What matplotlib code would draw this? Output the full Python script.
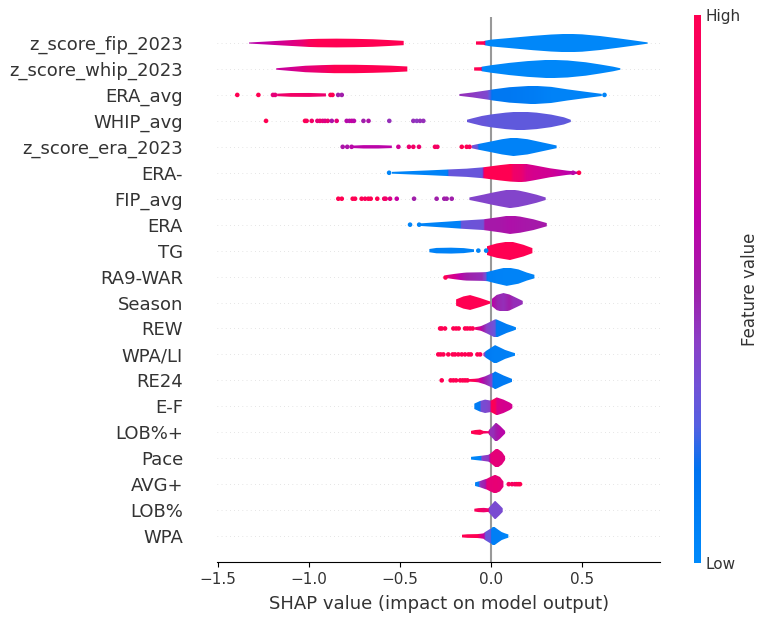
import numpy as np
import matplotlib
matplotlib.use("Agg")
import matplotlib.pyplot as plt
from matplotlib.colors import LinearSegmentedColormap
from matplotlib.patches import Polygon

# feature names, top to bottom
features = ["z_score_fip_2023", "z_score_whip_2023", "ERA_avg", "WHIP_avg",
            "z_score_era_2023", "ERA-", "FIP_avg", "ERA", "TG", "RA9-WAR",
            "Season", "REW", "WPA/LI", "RE24", "E-F", "LOB%+", "Pace", "AVG+",
            "LOB%", "WPA"]

# violin outlines: (shap value, relative half width, feature value 0..1)
fip_parts = [
    [(-1.33, 0.06, 0.6), (-1.24, 0.16, 0.64), (-1.14, 0.28, 0.72), (-1.05, 0.38, 0.8),
     (-1.0, 0.44, 0.95), (-0.95, 0.47, 1.0), (-0.85, 0.49, 1.0), (-0.75, 0.47, 1.0),
     (-0.65, 0.42, 1.0), (-0.56, 0.33, 1.0), (-0.48, 0.24, 1.0)],
    [(-0.085, 0.18, 1.0), (-0.04, 0.2, 1.0), (-0.033, 0.26, 0.02), (0.0, 0.38, 0.02),
     (0.1, 0.56, 0.02), (0.23, 0.8, 0.02), (0.33, 0.95, 0.02), (0.42, 1.03, 0.02),
     (0.5, 0.97, 0.02), (0.6, 0.78, 0.02), (0.7, 0.52, 0.02), (0.78, 0.3, 0.02),
     (0.86, 0.07, 0.02)],
]
fip_dots = []

whip_parts = [
    [(-1.18, 0.08, 0.66), (-1.1, 0.22, 0.7), (-1.02, 0.36, 0.78), (-0.93, 0.43, 0.88),
     (-0.86, 0.47, 1.0), (-0.75, 0.47, 1.0), (-0.65, 0.43, 1.0), (-0.55, 0.37, 1.0),
     (-0.46, 0.28, 1.0)],
    [(-0.093, 0.18, 1.0), (-0.055, 0.2, 1.0), (-0.05, 0.26, 0.02), (0.0, 0.42, 0.02),
     (0.1, 0.68, 0.02), (0.2, 0.88, 0.02), (0.32, 1.03, 0.02), (0.42, 0.95, 0.02),
     (0.52, 0.75, 0.02), (0.6, 0.5, 0.02), (0.67, 0.26, 0.02), (0.71, 0.08, 0.02)],
]
whip_dots = []

eraavg_parts = [
    [(-1.175, 0.14, 0.85), (-1.1, 0.21, 0.9), (-1.0, 0.22, 0.88), (-0.907, 0.17, 0.85)],
    [(-0.174, 0.1, 0.45), (-0.1, 0.28, 0.42), (-0.02, 0.52, 0.36), (0.01, 0.62, 0.13),
     (0.1, 0.86, 0.13), (0.23, 1.03, 0.1), (0.33, 0.9, 0.06), (0.42, 0.62, 0.05),
     (0.52, 0.35, 0.05), (0.608, 0.12, 0.05)],
]
eraavg_dots = [(-1.394, 1.0), (-1.278, 1.0), (-1.198, 0.8), (-1.186, 0.8), (-0.882, 1.0),
               (-0.871, 1.0), (-0.84, 0.5), (-0.82, 0.5), (0.623, 0.05)]

whipavg_parts = [
    [(-0.134, 0.12, 0.3), (-0.1, 0.3, 0.3), (-0.05, 0.55, 0.3), (0.0, 0.72, 0.28),
     (0.08, 0.92, 0.28), (0.16, 1.05, 0.28), (0.25, 0.92, 0.28), (0.33, 0.7, 0.28),
     (0.4, 0.4, 0.28), (0.438, 0.12, 0.28)],
]
whipavg_dots = [(-1.236, 1.0), (-1.022, 1.0), (-1.013, 0.95), (-0.985, 0.9), (-0.954, 0.8),
                (-0.94, 0.85), (-0.925, 0.8), (-0.912, 0.75), (-0.897, 0.85), (-0.875, 0.55),
                (-0.848, 0.8), (-0.793, 0.6), (-0.778, 0.55), (-0.765, 0.65), (-0.753, 0.6),
                (-0.701, 0.5), (-0.673, 0.55), (-0.559, 0.45), (-0.427, 0.45), (-0.408, 0.42),
                (-0.39, 0.45), (-0.372, 0.45)]

zera_parts = [
    [(-0.76, 0.14, 0.6), (-0.7, 0.19, 0.62), (-0.62, 0.19, 0.6), (-0.545, 0.14, 0.62)],
    [(-0.106, 0.16, 0.35), (-0.08, 0.28, 0.3), (-0.06, 0.36, 0.06), (0.0, 0.6, 0.06),
     (0.06, 0.85, 0.06), (0.123, 1.03, 0.06), (0.2, 0.85, 0.06), (0.28, 0.5, 0.06),
     (0.36, 0.15, 0.06)],
]
zera_dots = [(-0.815, 0.55), (-0.79, 0.55), (-0.766, 0.6), (-0.509, 0.7), (-0.451, 0.85),
             (-0.427, 0.9), (-0.396, 0.85), (-0.308, 0.95), (-0.295, 0.9), (-0.161, 1.0),
             (-0.134, 1.0), (-0.118, 0.95)]

eraminus_parts = [
    [(-0.546, 0.1, 0.04), (-0.45, 0.18, 0.04), (-0.35, 0.26, 0.05), (-0.243, 0.36, 0.06),
     (-0.236, 0.37, 0.3), (-0.134, 0.46, 0.3), (-0.05, 0.6, 0.3), (-0.04, 0.62, 1.0),
     (0.05, 0.86, 1.0), (0.104, 0.98, 1.0), (0.12, 1.0, 0.88), (0.16, 1.04, 0.85),
     (0.19, 1.0, 0.75), (0.233, 0.85, 0.72), (0.324, 0.5, 0.7), (0.416, 0.24, 0.62),
     (0.489, 0.1, 0.6)],
]
eraminus_dots = [(-0.56, 0.04), (0.45, 0.6), (0.483, 1.0)]

fipavg_parts = [
    [(-0.119, 0.14, 0.38), (-0.08, 0.3, 0.38), (-0.042, 0.46, 0.38), (0.0, 0.65, 0.38),
     (0.05, 0.85, 0.38), (0.104, 1.05, 0.38), (0.15, 0.92, 0.38), (0.196, 0.72, 0.38),
     (0.25, 0.45, 0.38), (0.3, 0.14, 0.38)],
]
fipavg_dots = [(-0.839, 1.0), (-0.82, 1.0), (-0.76, 1.0), (-0.747, 1.0), (-0.711, 1.0),
               (-0.692, 0.95), (-0.674, 1.0), (-0.661, 1.0), (-0.625, 1.0), (-0.587, 0.9),
               (-0.579, 0.9), (-0.555, 0.75), (-0.518, 0.65), (-0.423, 0.5), (-0.299, 0.5),
               (-0.257, 0.5), (-0.244, 0.5), (-0.216, 0.5)]

era_parts = [
    [(-0.39, 0.14, 0.05), (-0.316, 0.24, 0.05), (-0.24, 0.34, 0.05), (-0.17, 0.44, 0.06),
     (-0.165, 0.45, 0.3), (-0.042, 0.6, 0.32), (-0.035, 0.62, 0.52), (0.05, 0.86, 0.53),
     (0.104, 1.04, 0.56), (0.16, 0.9, 0.54), (0.233, 0.6, 0.52), (0.306, 0.18, 0.52)],
]
era_dots = [(-0.445, 0.05), (-0.395, 0.05)]

tg_parts = [
    [(-0.339, 0.18, 0.06), (-0.3, 0.3, 0.06), (-0.22, 0.33, 0.06), (-0.15, 0.28, 0.06),
     (-0.093, 0.14, 0.06)],
    [(-0.024, 0.48, 1.0), (0.031, 0.8, 1.0), (0.104, 1.05, 1.0), (0.178, 0.65, 1.0),
     (0.227, 0.28, 1.0)],
]
tg_dots = [(-0.07, 0.05), (-0.027, 0.05)]

ra9_parts = [
    [(-0.247, 0.16, 0.8), (-0.2, 0.3, 0.72), (-0.152, 0.42, 0.55), (-0.134, 0.45, 0.5),
     (-0.05, 0.48, 0.45), (-0.03, 0.5, 0.32), (-0.02, 0.52, 0.08), (0.03, 0.78, 0.06),
     (0.086, 1.04, 0.05), (0.15, 0.8, 0.05), (0.196, 0.45, 0.05), (0.238, 0.2, 0.05)],
]
ra9_dots = [(-0.253, 1.0)]

season_parts = [
    [(-0.192, 0.35, 1.0), (-0.152, 0.68, 1.0), (-0.115, 0.83, 1.0), (-0.06, 0.5, 1.0),
     (-0.024, 0.25, 1.0), (-0.005, 0.12, 1.0)],
    [(0.004, 0.4, 0.62), (0.031, 0.85, 0.48), (0.068, 1.06, 0.45), (0.1, 0.9, 0.5),
     (0.123, 0.68, 0.45), (0.174, 0.18, 0.45)],
]
season_dots = []

rew_parts = [
    [(-0.088, 0.14, 0.85), (-0.06, 0.24, 0.72), (-0.051, 0.3, 0.55), (-0.024, 0.55, 0.4),
     (0.022, 1.02, 0.3), (0.031, 1.0, 0.12), (0.086, 0.5, 0.1), (0.123, 0.24, 0.06),
     (0.137, 0.12, 0.05)],
]
rew_dots = [(-0.28, 1.0), (-0.271, 1.0), (-0.253, 1.0), (-0.207, 1.0), (-0.192, 1.0),
            (-0.178, 1.0), (-0.143, 1.0), (-0.13, 1.0), (-0.115, 1.0), (-0.101, 1.0)]

wpali_parts = [
    [(-0.042, 0.15, 0.65), (-0.027, 0.4, 0.12), (0.022, 1.04, 0.08), (0.077, 0.5, 0.08),
     (0.114, 0.25, 0.06), (0.132, 0.14, 0.05)],
]
wpali_dots = [(-0.29, 1.0), (-0.277, 1.0), (-0.262, 1.0), (-0.235, 1.0), (-0.211, 1.0),
              (-0.198, 1.0), (-0.18, 1.0), (-0.161, 1.0), (-0.143, 1.0), (-0.124, 1.0),
              (-0.111, 1.0), (-0.075, 1.0), (-0.06, 1.0)]

re24_parts = [
    [(-0.124, 0.14, 1.0), (-0.09, 0.18, 1.0), (-0.07, 0.22, 0.8), (-0.033, 0.45, 0.5),
     (0.005, 0.8, 0.38), (0.013, 0.85, 0.15), (0.022, 1.0, 0.12), (0.068, 0.55, 0.12),
     (0.117, 0.15, 0.1)],
]
re24_dots = [(-0.271, 1.0), (-0.222, 1.0), (-0.207, 1.0), (-0.192, 1.0), (-0.17, 1.0),
             (-0.156, 1.0), (-0.143, 1.0), (-0.13, 1.0)]

ef_parts = [
    [(-0.092, 0.3, 0.08), (-0.06, 0.6, 0.12), (-0.055, 0.62, 0.35), (-0.033, 0.75, 0.35),
     (-0.005, 0.65, 0.4), (0.0, 0.65, 1.0), (0.022, 0.9, 0.95), (0.031, 1.0, 0.75),
     (0.068, 0.75, 0.72), (0.104, 0.4, 0.72), (0.117, 0.2, 0.7)],
]
ef_dots = []

lobplus_parts = [
    [(-0.111, 0.15, 1.0), (-0.088, 0.25, 1.0), (-0.06, 0.3, 1.0), (-0.042, 0.15, 0.95),
     (-0.015, 0.12, 0.85), (-0.01, 0.3, 0.45), (0.01, 0.7, 0.45), (0.027, 1.08, 0.52),
     (0.05, 0.7, 0.6), (0.077, 0.15, 0.6)],
]
lobplus_dots = []

pace_parts = [
    [(-0.11, 0.15, 0.03), (-0.088, 0.2, 0.03), (-0.06, 0.26, 0.05), (-0.051, 0.28, 0.4),
     (-0.015, 0.38, 0.42), (-0.005, 0.5, 0.8), (0.031, 1.12, 0.8), (0.06, 0.7, 0.78),
     (0.077, 0.2, 0.78)],
]
pace_dots = []

avgplus_parts = [
    [(-0.088, 0.2, 0.05), (-0.07, 0.3, 0.08), (-0.06, 0.35, 0.45), (-0.033, 0.55, 0.5),
     (-0.024, 0.6, 0.8), (-0.005, 0.8, 0.8), (0.022, 1.05, 0.82), (0.049, 0.8, 0.8),
     (0.068, 0.3, 0.8)],
]
avgplus_dots = [(0.097, 0.95), (0.115, 0.95), (0.13, 0.9), (0.14, 0.95), (0.15, 1.0),
                (0.159, 1.0)]

lob_parts = [
    [(-0.092, 0.15, 0.95), (-0.07, 0.22, 0.95), (-0.04, 0.25, 0.85), (-0.015, 0.2, 0.9),
     (-0.009, 0.35, 0.35), (0.022, 1.05, 0.35), (0.045, 0.6, 0.35), (0.064, 0.2, 0.35)],
]
lob_dots = []

wpa_parts = [
    [(-0.161, 0.15, 1.0), (-0.13, 0.2, 1.0), (-0.075, 0.22, 1.0), (-0.06, 0.25, 0.75),
     (-0.042, 0.3, 0.65), (-0.033, 0.45, 0.3), (-0.005, 0.8, 0.3), (0.0, 0.82, 0.08),
     (0.013, 1.1, 0.08), (0.04, 0.7, 0.08), (0.058, 0.45, 0.06), (0.077, 0.3, 0.03),
     (0.095, 0.18, 0.03)],
]
wpa_dots = []

all_parts = [fip_parts, whip_parts, eraavg_parts, whipavg_parts, zera_parts, eraminus_parts,
             fipavg_parts, era_parts, tg_parts, ra9_parts, season_parts, rew_parts,
             wpali_parts, re24_parts, ef_parts, lobplus_parts, pace_parts, avgplus_parts,
             lob_parts, wpa_parts]
all_dots = [fip_dots, whip_dots, eraavg_dots, whipavg_dots, zera_dots, eraminus_dots,
            fipavg_dots, era_dots, tg_dots, ra9_dots, season_dots, rew_dots,
            wpali_dots, re24_dots, ef_dots, lobplus_dots, pace_dots, avgplus_dots,
            lob_dots, wpa_dots]

# shap-like red/blue colormap
cmap = LinearSegmentedColormap.from_list("red_blue", [
    (0.0, (0 / 255, 138 / 255, 251 / 255)),
    (0.17, (0 / 255, 115 / 255, 240 / 255)),
    (0.25, (85 / 255, 95 / 255, 225 / 255)),
    (0.32, (112 / 255, 82 / 255, 215 / 255)),
    (0.4, (138 / 255, 64 / 255, 200 / 255)),
    (0.5, (160 / 255, 30 / 255, 170 / 255)),
    (0.63, (192 / 255, 0 / 255, 168 / 255)),
    (0.8, (230 / 255, 0 / 255, 120 / 255)),
    (1.0, (255 / 255, 0 / 255, 82 / 255)),
])

W = 0.345  # half width of a full violin in row units
TXT = "#333333"

fig = plt.figure(figsize=(7.67, 6.21), dpi=100)
ax = fig.add_axes([0.283, 0.095, 0.578, 0.8775])

n = len(features)
for row, name in enumerate(features):
    pos = n - 1 - row
    ax.axhline(y=pos, color="#cccccc", lw=0.5, dashes=(1, 5), zorder=-1)
    for part in all_parts[row]:
        xs = np.array([k[0] for k in part])
        ws = np.array([k[1] for k in part]) * W
        cs = np.array([k[2] for k in part])
        verts = list(zip(xs, pos + ws)) + list(zip(xs[::-1], pos - ws[::-1]))
        poly = Polygon(verts, closed=True, facecolor="none", edgecolor="none")
        ax.add_patch(poly)
        grid = np.linspace(xs[0], xs[-1], 300)
        img = cmap(np.interp(grid, xs, cs))[np.newaxis, :, :]
        im = ax.imshow(img, extent=[xs[0], xs[-1], pos - W, pos + W], aspect="auto",
                       interpolation="bilinear", zorder=2, origin="lower")
        im.set_clip_path(poly)
    dots = all_dots[row]
    if dots:
        ax.scatter([d[0] for d in dots], [pos] * len(dots), c=[cmap(d[1]) for d in dots],
                   s=11, linewidth=0, zorder=3)

ax.axvline(x=0, color="#999999", zorder=-1)

ax.set_xlim(-1.505, 0.93)
ax.set_ylim(-1, n)
ax.set_yticks(range(n))
ax.set_yticklabels(features[::-1], fontsize=13, color=TXT)
ax.tick_params("y", length=0, pad=24.5)
ax.tick_params("x", labelsize=11, labelcolor=TXT)
ax.xaxis.set_ticks_position("bottom")
ax.set_xticks([-1.5, -1.0, -0.5, 0.0, 0.5])
for side in ["right", "top", "left"]:
    ax.spines[side].set_visible(False)
ax.set_xlabel("SHAP value (impact on model output)", fontsize=13, color=TXT, labelpad=6)

cax = fig.add_axes([0.905, 0.0934, 0.0091, 0.8824])
sm = plt.cm.ScalarMappable(cmap=cmap)
sm.set_array([0, 1])
cb = fig.colorbar(sm, cax=cax, ticks=[0, 1])
cb.set_ticklabels(["Low", "High"])
cb.set_label("Feature value", size=12, labelpad=0, color=TXT)
cb.ax.tick_params(labelsize=11, length=0, labelcolor=TXT)
cb.outline.set_visible(False)

fig.savefig("out.png", dpi=100)
